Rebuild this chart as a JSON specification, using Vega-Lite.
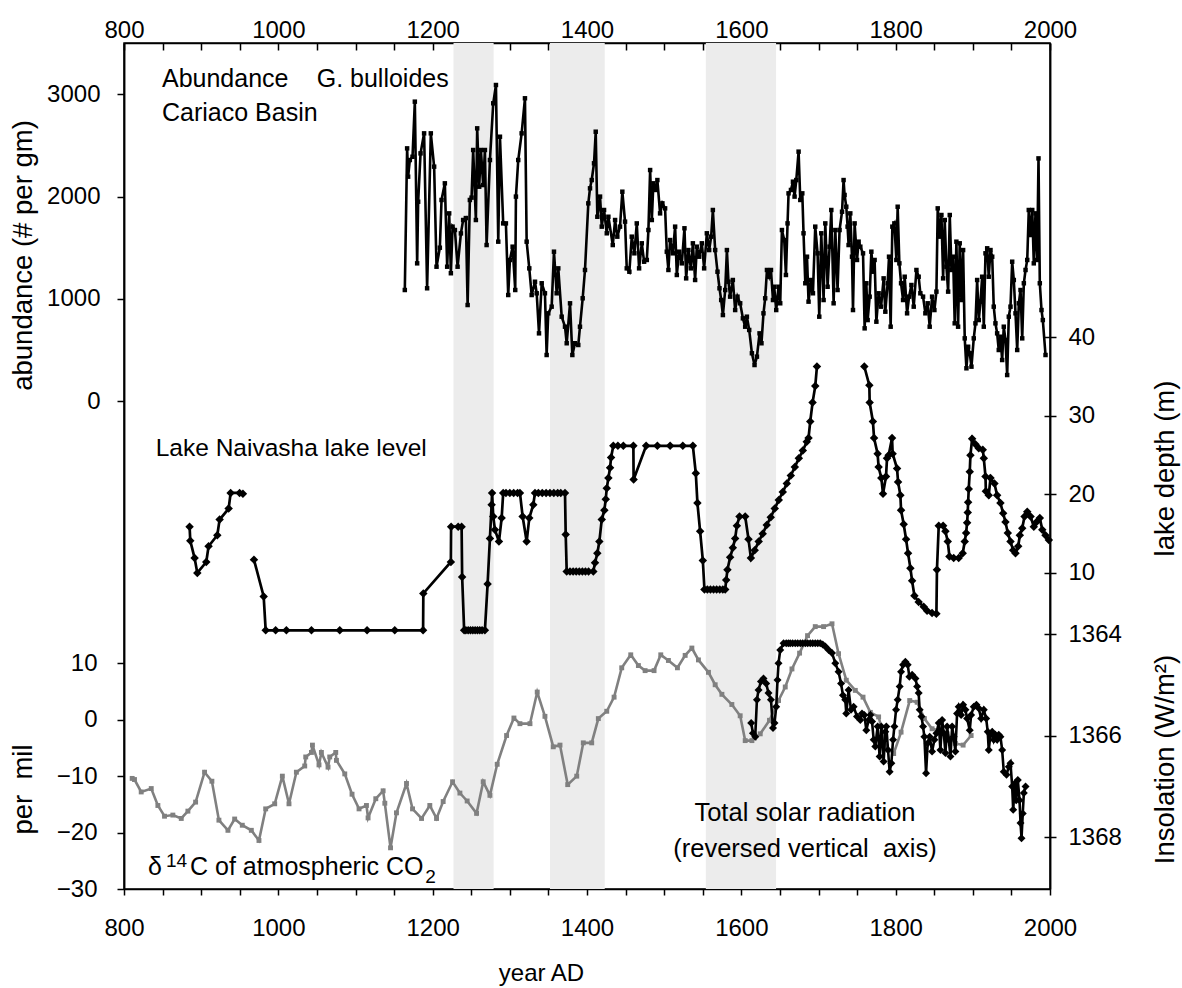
{
  "$schema": "https://vega.github.io/schema/vega-lite/v6.json",
  "width": 926,
  "height": 846,
  "autosize": {"type": "none"},
  "padding": {"left": 124, "top": 43, "right": 132, "bottom": 99},
  "background": "white",
  "config": {
    "font": "Liberation Sans",
    "view": {"stroke": "black", "strokeWidth": 1.5},
    "axis": {
      "grid": false,
      "domainColor": "black",
      "tickColor": "black",
      "labelColor": "black",
      "titleColor": "black",
      "labelFont": "Liberation Sans",
      "titleFont": "Liberation Sans",
      "labelFontSize": 24,
      "titleFontSize": 27.5,
      "titleFontWeight": "normal",
      "domainWidth": 1.5,
      "tickWidth": 1.5
    },
    "text": {"font": "Liberation Sans", "color": "black"}
  },
  "datasets": {
    "bands": [
      {"start": 1227, "end": 1279},
      {"start": 1352, "end": 1423},
      {"start": 1554, "end": 1645}
    ],
    "cariaco": [
      {"year":1163.9,"v":1086},{"year":1166.9,"v":2472},{"year":1168.2,"v":2195},{"year":1170.4,"v":2358},{"year":1173.9,"v":2390},{"year":1176.9,"v":2929},{"year":1179.9,"v":1347},{"year":1181.2,"v":1950},{"year":1184.3,"v":2423},{"year":1188.9,"v":2619},{"year":1192.8,"v":1103},{"year":1197.6,"v":2619},{"year":1201.9,"v":2293},{"year":1205,"v":1314},{"year":1209.3,"v":1500},{"year":1211.5,"v":1967},{"year":1215.8,"v":2130},{"year":1218.8,"v":1314},{"year":1221.4,"v":1836},{"year":1223.6,"v":1250},{"year":1225.8,"v":1706},{"year":1228.8,"v":1673},{"year":1232.3,"v":1314},{"year":1236.6,"v":1640},{"year":1239.5,"v":1771},{"year":1243,"v":1790},{"year":1245.3,"v":939},{"year":1248.2,"v":1967},{"year":1250.4,"v":1990},{"year":1252.5,"v":2456},{"year":1256,"v":1771},{"year":1257.7,"v":2668},{"year":1260.3,"v":2097},{"year":1262.5,"v":2456},{"year":1265.5,"v":2113},{"year":1267.7,"v":2456},{"year":1269.9,"v":1526},{"year":1274.2,"v":2358},{"year":1278.5,"v":2913},{"year":1282,"v":3092},{"year":1285,"v":1559},{"year":1287.2,"v":2586},{"year":1291.4,"v":1738},{"year":1294.9,"v":1738},{"year":1297.9,"v":1037},{"year":1300.1,"v":1380},{"year":1303.6,"v":1510},{"year":1307,"v":1086},{"year":1307.9,"v":2000},{"year":1310.9,"v":2358},{"year":1315.3,"v":2619},{"year":1319.6,"v":2962},{"year":1321.8,"v":1559},{"year":1325.2,"v":1298},{"year":1328.3,"v":1037},{"year":1332.6,"v":1167},{"year":1334.8,"v":1054},{"year":1337.8,"v":662},{"year":1341.3,"v":1152},{"year":1345.5,"v":1054},{"year":1347.7,"v":450},{"year":1349.8,"v":858},{"year":1354.2,"v":923},{"year":1357.2,"v":1461},{"year":1360.7,"v":1054},{"year":1362.8,"v":1298},{"year":1367.2,"v":825},{"year":1371.5,"v":727},{"year":1373.7,"v":565},{"year":1378,"v":956},{"year":1381,"v":450},{"year":1384.4,"v":565},{"year":1388.7,"v":548},{"year":1390.9,"v":727},{"year":1394.4,"v":1005},{"year":1397.4,"v":1282},{"year":1401.7,"v":1934},{"year":1403.9,"v":2081},{"year":1406.1,"v":2162},{"year":1409.1,"v":2326},{"year":1411.3,"v":2635},{"year":1413.4,"v":1803},{"year":1416.9,"v":2000},{"year":1419.1,"v":1706},{"year":1422.1,"v":1869},{"year":1425.6,"v":1641},{"year":1427.7,"v":1803},{"year":1433.4,"v":1526},{"year":1436.4,"v":1771},{"year":1439.3,"v":1608},{"year":1442.8,"v":1706},{"year":1445.8,"v":2048},{"year":1449.3,"v":1755},{"year":1451.5,"v":1298},{"year":1454.9,"v":1265},{"year":1458,"v":1608},{"year":1461.4,"v":1445},{"year":1464.5,"v":1738},{"year":1467.5,"v":1298},{"year":1471,"v":1543},{"year":1474,"v":1363},{"year":1477.5,"v":1380},{"year":1479.6,"v":1673},{"year":1481.8,"v":2260},{"year":1484,"v":1771},{"year":1486,"v":2130},{"year":1488.2,"v":2065},{"year":1491.2,"v":2162},{"year":1494.7,"v":1836},{"year":1497.7,"v":1934},{"year":1501.2,"v":1885},{"year":1503.4,"v":1461},{"year":1505.5,"v":1282},{"year":1507.7,"v":1575},{"year":1511.2,"v":1445},{"year":1514.2,"v":1706},{"year":1516.4,"v":1233},{"year":1519.4,"v":1461},{"year":1522.9,"v":1347},{"year":1526.3,"v":1690},{"year":1528.5,"v":1200},{"year":1531.4,"v":1477},{"year":1534.6,"v":1298},{"year":1537.2,"v":1543},{"year":1540.1,"v":1184},{"year":1542.3,"v":1510},{"year":1545.3,"v":1412},{"year":1548.8,"v":1543},{"year":1551.8,"v":1298},{"year":1555.3,"v":1641},{"year":1558.3,"v":1477},{"year":1560.9,"v":1608},{"year":1563.1,"v":1869},{"year":1566.1,"v":1477},{"year":1569.1,"v":1265},{"year":1571.7,"v":1103},{"year":1573.9,"v":988},{"year":1576.1,"v":841},{"year":1579.1,"v":1086},{"year":1581.3,"v":1477},{"year":1583.3,"v":1167},{"year":1585.5,"v":1021},{"year":1589,"v":1184},{"year":1592,"v":890},{"year":1595,"v":1021},{"year":1598.5,"v":956},{"year":1602,"v":809},{"year":1605,"v":727},{"year":1607.2,"v":825},{"year":1610.2,"v":695},{"year":1613.7,"v":467},{"year":1617.1,"v":352},{"year":1620.2,"v":434},{"year":1623.6,"v":662},{"year":1626.1,"v":565},{"year":1628.7,"v":858},{"year":1630.9,"v":1005},{"year":1633.2,"v":1282},{"year":1636.1,"v":1216},{"year":1638.4,"v":1282},{"year":1641,"v":988},{"year":1642.6,"v":1118},{"year":1645.2,"v":890},{"year":1648.2,"v":1118},{"year":1650.4,"v":956},{"year":1652.6,"v":1673},{"year":1655.6,"v":1575},{"year":1657.8,"v":1233},{"year":1659.9,"v":1738},{"year":1661.2,"v":2032},{"year":1664.3,"v":2065},{"year":1666.9,"v":2146},{"year":1669,"v":2000},{"year":1671.2,"v":2162},{"year":1674.2,"v":2440},{"year":1676.4,"v":1967},{"year":1679,"v":2032},{"year":1680.6,"v":1641},{"year":1682.9,"v":1152},{"year":1685.1,"v":1412},{"year":1687.1,"v":972},{"year":1690.2,"v":1184},{"year":1692.8,"v":1054},{"year":1695.8,"v":1706},{"year":1698.8,"v":1445},{"year":1701,"v":825},{"year":1703.6,"v":1641},{"year":1706.6,"v":988},{"year":1708.8,"v":1738},{"year":1711.8,"v":1118},{"year":1714.4,"v":1510},{"year":1716.6,"v":1869},{"year":1719.6,"v":956},{"year":1721.8,"v":1673},{"year":1724.7,"v":1086},{"year":1727.3,"v":1673},{"year":1730.5,"v":1852},{"year":1732.5,"v":2162},{"year":1733.8,"v":2016},{"year":1736,"v":1901},{"year":1737.7,"v":1706},{"year":1739,"v":1526},{"year":1741.2,"v":1836},{"year":1743.4,"v":1412},{"year":1744.7,"v":890},{"year":1746.8,"v":1738},{"year":1749.9,"v":1380},{"year":1752,"v":1559},{"year":1754.2,"v":1510},{"year":1757.7,"v":1445},{"year":1759.8,"v":711},{"year":1762,"v":1152},{"year":1763.7,"v":792},{"year":1766.3,"v":1021},{"year":1768.5,"v":1461},{"year":1770.7,"v":1265},{"year":1772.7,"v":1380},{"year":1775,"v":776},{"year":1777.9,"v":1054},{"year":1781.1,"v":923},{"year":1784.4,"v":1200},{"year":1786.6,"v":874},{"year":1789.6,"v":1152},{"year":1791.4,"v":1412},{"year":1793.5,"v":727},{"year":1795.7,"v":1706},{"year":1798.3,"v":1738},{"year":1800.9,"v":1380},{"year":1802.6,"v":1901},{"year":1804.8,"v":1347},{"year":1807,"v":1152},{"year":1809.6,"v":988},{"year":1811.7,"v":1216},{"year":1814.8,"v":858},{"year":1817.4,"v":1021},{"year":1820.4,"v":1135},{"year":1823.4,"v":923},{"year":1826.9,"v":1282},{"year":1829.8,"v":1216},{"year":1832,"v":1054},{"year":1835.5,"v":1021},{"year":1838.5,"v":858},{"year":1841.5,"v":956},{"year":1844.1,"v":727},{"year":1847.2,"v":1021},{"year":1850.2,"v":890},{"year":1852.8,"v":1070},{"year":1854.5,"v":1885},{"year":1857.1,"v":1608},{"year":1859.3,"v":1820},{"year":1861.5,"v":1200},{"year":1863.6,"v":1771},{"year":1865.8,"v":1314},{"year":1868,"v":1070},{"year":1870.1,"v":1820},{"year":1872.3,"v":1282},{"year":1874.5,"v":1412},{"year":1876.5,"v":760},{"year":1878.7,"v":1559},{"year":1880.9,"v":727},{"year":1883,"v":1543},{"year":1885.2,"v":988},{"year":1887.4,"v":1477},{"year":1889.5,"v":613},{"year":1891.7,"v":320},{"year":1893.9,"v":531},{"year":1896,"v":467},{"year":1898.2,"v":336},{"year":1901.2,"v":613},{"year":1903.4,"v":760},{"year":1905.6,"v":1184},{"year":1907.7,"v":792},{"year":1909.9,"v":972},{"year":1912.1,"v":1216},{"year":1914.2,"v":727},{"year":1916.4,"v":1445},{"year":1918.6,"v":1494},{"year":1920.6,"v":1216},{"year":1922.9,"v":1477},{"year":1925.1,"v":1412},{"year":1927.1,"v":923},{"year":1929.3,"v":760},{"year":1931.5,"v":662},{"year":1933.6,"v":499},{"year":1935.8,"v":629},{"year":1938,"v":401},{"year":1940.1,"v":727},{"year":1942.3,"v":597},{"year":1944.5,"v":254},{"year":1946.6,"v":825},{"year":1948.8,"v":923},{"year":1951,"v":1363},{"year":1953.1,"v":1184},{"year":1955.3,"v":858},{"year":1957.5,"v":499},{"year":1959.6,"v":956},{"year":1961.8,"v":1086},{"year":1964,"v":613},{"year":1966.1,"v":1152},{"year":1968.3,"v":1282},{"year":1970.5,"v":1380},{"year":1972.5,"v":1869},{"year":1974.8,"v":1624},{"year":1977,"v":1869},{"year":1979,"v":1347},{"year":1981.2,"v":1836},{"year":1983.4,"v":1380},{"year":1985.1,"v":2374},{"year":1986.8,"v":1152},{"year":1989,"v":890},{"year":1990.7,"v":792},{"year":1994.2,"v":450}
    ],
    "lake": [
      {"seg":1,"year":885,"d":15.9},{"seg":1,"year":885.9,"d":14.1},{"seg":1,"year":891.5,"d":11.9},{"seg":1,"year":895,"d":10.0},{"seg":1,"year":906.6,"d":11.4},{"seg":1,"year":909.6,"d":13.4},{"seg":1,"year":920.9,"d":14.8},{"seg":1,"year":923.9,"d":16.8},{"seg":1,"year":935.6,"d":18.2},{"seg":1,"year":938.2,"d":20.2},{"seg":1,"year":949.8,"d":20.2},{"seg":1,"year":954.1,"d":20.1},
      {"seg":2,"year":968.4,"d":11.7},{"seg":2,"year":981,"d":7.0},{"seg":2,"year":983.6,"d":2.7},{"seg":2,"year":996.5,"d":2.7},{"seg":2,"year":1010.4,"d":2.7},{"seg":2,"year":1042.9,"d":2.7},{"seg":2,"year":1079.6,"d":2.7},{"seg":2,"year":1115,"d":2.7},{"seg":2,"year":1150.9,"d":2.7},{"seg":2,"year":1187.6,"d":2.7},{"seg":2,"year":1187.9,"d":7.4},{"seg":2,"year":1223.6,"d":11.4},{"seg":2,"year":1223.9,"d":15.9},{"seg":2,"year":1233.1,"d":15.9},{"seg":2,"year":1237.5,"d":15.9},{"seg":2,"year":1238.2,"d":9.5},{"seg":2,"year":1240.8,"d":2.7},{"seg":2,"year":1243,"d":2.7},{"seg":2,"year":1246,"d":2.7},{"seg":2,"year":1249,"d":2.7},{"seg":2,"year":1252,"d":2.7},{"seg":2,"year":1255,"d":2.7},{"seg":2,"year":1258,"d":2.7},{"seg":2,"year":1261,"d":2.7},{"seg":2,"year":1264,"d":2.7},{"seg":2,"year":1267.7,"d":2.7},{"seg":2,"year":1271.2,"d":8.6},{"seg":2,"year":1274.2,"d":14.4},{"seg":2,"year":1276.4,"d":18.7},{"seg":2,"year":1277,"d":20.2},{"seg":2,"year":1278.5,"d":17.2},{"seg":2,"year":1280.7,"d":15.5},{"seg":2,"year":1285.9,"d":14.0},{"seg":2,"year":1289.4,"d":17.0},{"seg":2,"year":1291.4,"d":20.2},{"seg":2,"year":1295,"d":20.2},{"seg":2,"year":1300,"d":20.2},{"seg":2,"year":1305,"d":20.2},{"seg":2,"year":1310,"d":20.2},{"seg":2,"year":1313.1,"d":20.2},{"seg":2,"year":1316.6,"d":17.2},{"seg":2,"year":1321.8,"d":14.0},{"seg":2,"year":1325.2,"d":17.0},{"seg":2,"year":1330.4,"d":18.7},{"seg":2,"year":1332.6,"d":20.2},{"seg":2,"year":1337,"d":20.2},{"seg":2,"year":1342,"d":20.2},{"seg":2,"year":1347,"d":20.2},{"seg":2,"year":1352,"d":20.2},{"seg":2,"year":1357,"d":20.2},{"seg":2,"year":1362,"d":20.2},{"seg":2,"year":1366,"d":20.2},{"seg":2,"year":1371.5,"d":20.2},{"seg":2,"year":1372.4,"d":14.9},{"seg":2,"year":1373.7,"d":10.2},{"seg":2,"year":1378,"d":10.2},{"seg":2,"year":1382,"d":10.2},{"seg":2,"year":1386,"d":10.2},{"seg":2,"year":1390,"d":10.2},{"seg":2,"year":1394,"d":10.2},{"seg":2,"year":1398,"d":10.2},{"seg":2,"year":1402,"d":10.2},{"seg":2,"year":1408.2,"d":10.2},{"seg":2,"year":1410.4,"d":11.3},{"seg":2,"year":1413.4,"d":12.5},{"seg":2,"year":1416,"d":14.0},{"seg":2,"year":1419.1,"d":16.8},{"seg":2,"year":1422.5,"d":18.0},{"seg":2,"year":1424.3,"d":19.4},{"seg":2,"year":1425.6,"d":20.8},{"seg":2,"year":1427.7,"d":22.1},{"seg":2,"year":1429.9,"d":23.4},{"seg":2,"year":1431.2,"d":24.7},{"seg":2,"year":1434.1,"d":26.2},{"seg":2,"year":1440,"d":26.2},{"seg":2,"year":1447.1,"d":26.2},{"seg":2,"year":1460.1,"d":26.2},{"seg":2,"year":1460.4,"d":21.9},{"seg":2,"year":1476.6,"d":26.2},{"seg":2,"year":1491.2,"d":26.2},{"seg":2,"year":1507.7,"d":26.2},{"seg":2,"year":1524.2,"d":26.2},{"seg":2,"year":1537.2,"d":26.2},{"seg":2,"year":1541,"d":22.7},{"seg":2,"year":1543.1,"d":18.9},{"seg":2,"year":1546.6,"d":15.3},{"seg":2,"year":1550.1,"d":11.6},{"seg":2,"year":1552.2,"d":7.9},{"seg":2,"year":1556,"d":7.9},{"seg":2,"year":1560,"d":7.9},{"seg":2,"year":1564,"d":7.9},{"seg":2,"year":1568,"d":7.9},{"seg":2,"year":1572,"d":7.9},{"seg":2,"year":1576,"d":7.9},{"seg":2,"year":1579.1,"d":7.9},{"seg":2,"year":1580.4,"d":9.1},{"seg":2,"year":1582,"d":10.4},{"seg":2,"year":1585.5,"d":12.0},{"seg":2,"year":1589,"d":13.2},{"seg":2,"year":1592,"d":14.4},{"seg":2,"year":1594.2,"d":16.0},{"seg":2,"year":1597.6,"d":17.2},{"seg":2,"year":1605,"d":17.2},{"seg":2,"year":1609.3,"d":14.3},{"seg":2,"year":1612.4,"d":11.9},{"seg":2,"year":1617.3,"d":12.9},{"seg":2,"year":1622.5,"d":14.0},{"seg":2,"year":1627.7,"d":15.0},{"seg":2,"year":1632.9,"d":16.1},{"seg":2,"year":1638.1,"d":17.1},{"seg":2,"year":1643.3,"d":18.2},{"seg":2,"year":1648.5,"d":19.3},{"seg":2,"year":1653.7,"d":20.3},{"seg":2,"year":1658.9,"d":21.4},{"seg":2,"year":1664.1,"d":22.4},{"seg":2,"year":1669.3,"d":23.5},{"seg":2,"year":1674.5,"d":24.6},{"seg":2,"year":1679.7,"d":25.6},{"seg":2,"year":1684.8,"d":26.7},{"seg":2,"year":1687.1,"d":27.2},{"seg":2,"year":1689.3,"d":29.3},{"seg":2,"year":1692.3,"d":31.7},{"seg":2,"year":1695.8,"d":33.8},{"seg":2,"year":1698,"d":36.3},
      {"seg":3,"year":1759.4,"d":36.3},{"seg":3,"year":1765.9,"d":33.9},{"seg":3,"year":1766.3,"d":31.7},{"seg":3,"year":1770.5,"d":29.3},{"seg":3,"year":1772,"d":27.2},{"seg":3,"year":1776.6,"d":25.2},{"seg":3,"year":1777.9,"d":23.5},{"seg":3,"year":1781.4,"d":22.1},{"seg":3,"year":1783.6,"d":20.1},{"seg":3,"year":1787.5,"d":22.3},{"seg":3,"year":1788.8,"d":24.6},{"seg":3,"year":1790.9,"d":25.0},{"seg":3,"year":1795.3,"d":27.2},{"seg":3,"year":1796.1,"d":25.2},{"seg":3,"year":1801.8,"d":23.3},{"seg":3,"year":1803.1,"d":21.6},{"seg":3,"year":1806.1,"d":19.9},{"seg":3,"year":1807,"d":18.0},{"seg":3,"year":1810.4,"d":16.2},{"seg":3,"year":1813.5,"d":14.3},{"seg":3,"year":1816.1,"d":12.5},{"seg":3,"year":1819.1,"d":10.6},{"seg":3,"year":1821.3,"d":9.0},{"seg":3,"year":1824.3,"d":7.1},{"seg":3,"year":1829.8,"d":6.3},{"seg":3,"year":1836.3,"d":5.7},{"seg":3,"year":1840.7,"d":5.2},{"seg":3,"year":1847.2,"d":4.9},{"seg":3,"year":1852.8,"d":4.8},{"seg":3,"year":1853.5,"d":10.4},{"seg":3,"year":1855.8,"d":16.0},{"seg":3,"year":1861.5,"d":16.0},{"seg":3,"year":1864.5,"d":15.3},{"seg":3,"year":1867.5,"d":14.0},{"seg":3,"year":1869.7,"d":12.1},{"seg":3,"year":1875.2,"d":11.9},{"seg":3,"year":1881.7,"d":11.9},{"seg":3,"year":1886.9,"d":12.5},{"seg":3,"year":1889.5,"d":14.0},{"seg":3,"year":1891.3,"d":15.1},{"seg":3,"year":1892.6,"d":16.4},{"seg":3,"year":1893.4,"d":17.7},{"seg":3,"year":1893.9,"d":19.0},{"seg":3,"year":1894.7,"d":20.7},{"seg":3,"year":1896,"d":22.9},{"seg":3,"year":1896.9,"d":25.0},{"seg":3,"year":1899.1,"d":27.1},{"seg":3,"year":1903.4,"d":26.4},{"seg":3,"year":1907.7,"d":25.9},{"seg":3,"year":1912.9,"d":25.7},{"seg":3,"year":1914.2,"d":24.6},{"seg":3,"year":1916.4,"d":22.3},{"seg":3,"year":1916.9,"d":20.4},{"seg":3,"year":1920.6,"d":19.9},{"seg":3,"year":1922.9,"d":22.1},{"seg":3,"year":1928,"d":21.4},{"seg":3,"year":1931.5,"d":19.9},{"seg":3,"year":1935.8,"d":18.9},{"seg":3,"year":1939.3,"d":17.6},{"seg":3,"year":1942.3,"d":16.5},{"seg":3,"year":1945.3,"d":15.1},{"seg":3,"year":1948.8,"d":14.0},{"seg":3,"year":1952.3,"d":12.9},{"seg":3,"year":1955.3,"d":12.5},{"seg":3,"year":1958.8,"d":13.4},{"seg":3,"year":1960.9,"d":14.8},{"seg":3,"year":1964,"d":15.7},{"seg":3,"year":1967,"d":17.2},{"seg":3,"year":1970.5,"d":17.8},{"seg":3,"year":1974.8,"d":17.2},{"seg":3,"year":1979,"d":15.9},{"seg":3,"year":1982.5,"d":16.5},{"seg":3,"year":1986.8,"d":17.0},{"seg":3,"year":1990,"d":15.5},{"seg":3,"year":1994.2,"d":14.8},{"seg":3,"year":1998.5,"d":14.2}
    ],
    "c14": [
      {"year":810.6,"p":-10.4},{"year":813.6,"p":-10.6},{"year":822.3,"p":-12.8},{"year":835.3,"p":-12.2},{"year":843.9,"p":-15.2},{"year":852.5,"p":-17.1},{"year":863.3,"p":-16.9},{"year":874.2,"p":-17.5},{"year":882.8,"p":-16.2},{"year":892.8,"p":-14.6},{"year":904.4,"p":-9.3},{"year":913.9,"p":-10.9},{"year":923,"p":-17.8},{"year":934.7,"p":-19.6},{"year":943.4,"p":-17.6},{"year":953.3,"p":-18.7},{"year":965,"p":-19.6},{"year":974.9,"p":-21.4},{"year":983.6,"p":-15.8},{"year":995.3,"p":-14.9},{"year":1005.2,"p":-10.0},{"year":1013.8,"p":-14.9},{"year":1023.4,"p":-9.3},{"year":1034.2,"p":-8.2},{"year":1035.5,"p":-6.6},{"year":1042.9,"p":-5.8},{"year":1044.2,"p":-4.5},{"year":1052.7,"p":-8.0},{"year":1055.8,"p":-5.8},{"year":1064.4,"p":-8.4},{"year":1066.6,"p":-6.6},{"year":1074.4,"p":-5.8},{"year":1075.3,"p":-7.2},{"year":1086.1,"p":-9.6},{"year":1095.5,"p":-13.2},{"year":1104.6,"p":-15.8},{"year":1114.2,"p":-15.2},{"year":1116.3,"p":-17.4},{"year":1126.3,"p":-14.0},{"year":1135.8,"p":-12.6},{"year":1138,"p":-14.8},{"year":1145.4,"p":-22.7},{"year":1153.1,"p":-16.5},{"year":1166.1,"p":-11.3},{"year":1173.9,"p":-15.8},{"year":1185.6,"p":-17.5},{"year":1196.3,"p":-15.2},{"year":1205,"p":-17.5},{"year":1213.6,"p":-14.5},{"year":1225.8,"p":-11.0},{"year":1235.3,"p":-13.0},{"year":1244.7,"p":-14.4},{"year":1256.9,"p":-16.6},{"year":1265.5,"p":-11.0},{"year":1274.2,"p":-13.4},{"year":1283.6,"p":-7.9},{"year":1295.8,"p":-2.8},{"year":1305.3,"p":0.3},{"year":1313.1,"p":-0.7},{"year":1326.1,"p":-0.7},{"year":1335.5,"p":4.9},{"year":1345.5,"p":0.6},{"year":1356.3,"p":-4.8},{"year":1365,"p":-4.5},{"year":1375,"p":-11.5},{"year":1386.7,"p":-10.0},{"year":1395.2,"p":-4.1},{"year":1406.1,"p":-4.1},{"year":1414.7,"p":0.2},{"year":1425.6,"p":1.5},{"year":1435.1,"p":4.0},{"year":1445,"p":9.2},{"year":1456.7,"p":11.5},{"year":1466.6,"p":9.6},{"year":1475.3,"p":8.7},{"year":1486.9,"p":8.7},{"year":1495.6,"p":11.5},{"year":1505.5,"p":10.5},{"year":1517.2,"p":9.2},{"year":1527.2,"p":11.4},{"year":1535.9,"p":12.7},{"year":1544.4,"p":10.6},{"year":1557.4,"p":8.4},{"year":1566.1,"p":6.2},{"year":1574.8,"p":4.5},{"year":1587.7,"p":2.7},{"year":1598.5,"p":0.7},{"year":1605,"p":-3.7},{"year":1613.7,"p":-3.7},{"year":1624.5,"p":-2.5},{"year":1636.5,"p":-0.1},{"year":1648.2,"p":3.4},{"year":1656.9,"p":5.8},{"year":1665.6,"p":9.0},{"year":1675.5,"p":11.8},{"year":1685.8,"p":14.9},{"year":1695.8,"p":16.5},{"year":1706.6,"p":16.5},{"year":1717.5,"p":17.0},{"year":1726,"p":11.7},{"year":1736,"p":7.0},{"year":1747.7,"p":5.2},{"year":1757.7,"p":4.0},{"year":1767.2,"p":1.3},{"year":1777.9,"p":0.5},{"year":1787.9,"p":-4.8},{"year":1797.4,"p":-6.0},{"year":1807,"p":-2.2},{"year":1818.2,"p":3.4},{"year":1827.8,"p":3.1},{"year":1837.2,"p":0.2},{"year":1847.2,"p":-1.6},{"year":1857.1,"p":-1.9},{"year":1866.7,"p":-2.5},{"year":1877.4,"p":-4.2},{"year":1887.4,"p":-4.5},{"year":1897.8,"p":-2.8}
    ],
    "solar": [
      {"year":1612.8,"s":1365.75},{"year":1615,"s":1365.95},{"year":1618,"s":1366.02},{"year":1620.2,"s":1365.29},{"year":1622.3,"s":1365.10},{"year":1625.4,"s":1364.93},{"year":1628.7,"s":1364.87},{"year":1632.2,"s":1364.97},{"year":1635.2,"s":1365.16},{"year":1638.4,"s":1365.29},{"year":1641,"s":1365.85},{"year":1643,"s":1365.75},{"year":1645.2,"s":1365.43},{"year":1646.9,"s":1364.90},{"year":1648.2,"s":1364.57},{"year":1650.4,"s":1364.31},{"year":1654.7,"s":1364.18},{"year":1658.2,"s":1364.18},{"year":1661,"s":1364.18},{"year":1663.4,"s":1364.18},{"year":1666.5,"s":1364.18},{"year":1669.9,"s":1364.18},{"year":1673,"s":1364.18},{"year":1676.4,"s":1364.18},{"year":1679.5,"s":1364.18},{"year":1682.9,"s":1364.18},{"year":1686,"s":1364.18},{"year":1689.3,"s":1364.18},{"year":1692.5,"s":1364.18},{"year":1695.8,"s":1364.18},{"year":1699,"s":1364.18},{"year":1702.3,"s":1364.18},{"year":1705.5,"s":1364.2},{"year":1708.8,"s":1364.24},{"year":1713.1,"s":1364.31},{"year":1717.5,"s":1364.37},{"year":1721.8,"s":1364.57},{"year":1726,"s":1364.74},{"year":1729.2,"s":1364.97},{"year":1731.7,"s":1365.20},{"year":1734.7,"s":1365.29},{"year":1736,"s":1365.56},{"year":1739,"s":1365.10},{"year":1742.1,"s":1365.49},{"year":1745.5,"s":1365.43},{"year":1749.9,"s":1365.62},{"year":1754.2,"s":1365.69},{"year":1756.4,"s":1365.56},{"year":1759.4,"s":1365.59},{"year":1762,"s":1365.89},{"year":1765,"s":1365.69},{"year":1767.2,"s":1365.59},{"year":1769.4,"s":1365.72},{"year":1771.5,"s":1366.08},{"year":1773.6,"s":1366.21},{"year":1776.6,"s":1365.82},{"year":1779.2,"s":1366.41},{"year":1781.4,"s":1365.82},{"year":1784.4,"s":1366.51},{"year":1786.6,"s":1365.92},{"year":1787.9,"s":1365.82},{"year":1790.1,"s":1366.28},{"year":1792.2,"s":1366.71},{"year":1794.4,"s":1366.54},{"year":1796.6,"s":1366.08},{"year":1798.3,"s":1365.82},{"year":1800.5,"s":1365.49},{"year":1802.6,"s":1365.29},{"year":1805.2,"s":1365.03},{"year":1807,"s":1364.74},{"year":1809.6,"s":1364.60},{"year":1812.6,"s":1364.54},{"year":1815.6,"s":1364.60},{"year":1817.8,"s":1364.84},{"year":1821.3,"s":1364.80},{"year":1825.6,"s":1364.87},{"year":1827.8,"s":1365.03},{"year":1829.8,"s":1365.16},{"year":1831.1,"s":1365.49},{"year":1833.4,"s":1365.62},{"year":1835.5,"s":1365.82},{"year":1837.2,"s":1366.02},{"year":1839.4,"s":1366.74},{"year":1841.5,"s":1366.15},{"year":1844.1,"s":1366.02},{"year":1847.2,"s":1366.31},{"year":1850.2,"s":1366.08},{"year":1852.8,"s":1365.95},{"year":1855.8,"s":1365.75},{"year":1858,"s":1366.28},{"year":1860.2,"s":1365.69},{"year":1862.3,"s":1365.95},{"year":1864.5,"s":1366.34},{"year":1866.7,"s":1365.82},{"year":1868.8,"s":1366.08},{"year":1871,"s":1366.41},{"year":1873.2,"s":1365.82},{"year":1875.2,"s":1366.02},{"year":1877.4,"s":1366.31},{"year":1879.6,"s":1365.56},{"year":1881.7,"s":1365.43},{"year":1884.8,"s":1365.59},{"year":1887.4,"s":1365.39},{"year":1890.4,"s":1365.49},{"year":1892.6,"s":1365.66},{"year":1896,"s":1365.89},{"year":1897.8,"s":1365.59},{"year":1901.2,"s":1365.43},{"year":1904.7,"s":1365.39},{"year":1907.7,"s":1365.46},{"year":1910.8,"s":1365.66},{"year":1914.2,"s":1365.49},{"year":1917.3,"s":1365.66},{"year":1919.3,"s":1365.92},{"year":1920.6,"s":1366.28},{"year":1922.9,"s":1365.98},{"year":1925.1,"s":1365.92},{"year":1927.1,"s":1366.08},{"year":1929.3,"s":1365.98},{"year":1931.5,"s":1366.08},{"year":1933.6,"s":1365.98},{"year":1935.8,"s":1366.02},{"year":1938,"s":1366.28},{"year":1940.1,"s":1366.71},{"year":1943.6,"s":1366.77},{"year":1946.6,"s":1366.61},{"year":1948.8,"s":1366.54},{"year":1951,"s":1367.00},{"year":1952.3,"s":1367.46},{"year":1954.4,"s":1366.94},{"year":1956.2,"s":1367.27},{"year":1958.3,"s":1366.87},{"year":1960.5,"s":1367.27},{"year":1961.8,"s":1367.72},{"year":1963.1,"s":1368.02},{"year":1964.7,"s":1367.53},{"year":1966.1,"s":1367.13},{"year":1968.3,"s":1367.00}
    ],
    "labAb": [
      {"year": 849.2, "v": 3069, "t": "Abundance"},
      {"year": 1049.7, "v": 3069, "t": "G. bulloides"},
      {"year": 849.2, "v": 2743, "t": "Cariaco Basin"}
    ],
    "labLake": [
      {"year": 841.1, "d": 24.9, "t": "Lake Naivasha lake level"}
    ],
    "labC14": [
      {"year": 831.1, "p": -27.52, "t": "δ"},
      {"year": 885.5, "p": -27.52, "t": "C of atmospheric CO"}
    ],
    "labC14small": [
      {"year": 854.3, "p": -26.05, "t": "14"},
      {"year": 1190.5, "p": -29.0, "t": "2"}
    ],
    "labSolar": [
      {"year": 1682.5, "s": 1367.675, "t": "Total solar radiation"},
      {"year": 1682.5, "s": 1368.385, "t": "(reversed vertical\u00a0 axis)"}
    ]
  },
  "layer": [
    {
      "data": {"name": "bands"},
      "mark": {"type": "rect", "color": "#ececec"},
      "encoding": {
        "x": {
          "field": "start", "type": "quantitative",
          "scale": {"domain": [800, 2000], "nice": false, "zero": false},
          "axis": {
            "orient": "bottom",
            "values": [800,850,900,950,1000,1050,1100,1150,1200,1250,1300,1350,1400,1450,1500,1550,1600,1650,1700,1750,1800,1850,1900,1950,2000],
            "labelExpr": "datum.value % 200 == 0 ? datum.label : ''",
            "format": "d",
            "tickSize": 6,
            "labelPadding": 21,
            "labelFlush": false,
            "labelOverlap": false,
            "title": "year AD",
            "titleFontSize": 24,
            "titleX": 417,
            "titleY": 84,
            "titleAlign": "center",
            "titleBaseline": "middle",
            "titleAngle": 0
          }
        },
        "x2": {"field": "end"}
      }
    },
    {
      "data": {"name": "cariaco"},
      "mark": {"type": "line", "color": "black", "strokeWidth": 2.6, "point": {"shape": "square", "size": 20, "filled": true, "color": "black"}},
      "encoding": {
        "x": {
          "field": "year", "type": "quantitative",
          "scale": {"domain": [800, 2000], "nice": false, "zero": false},
          "axis": {
            "orient": "top",
            "values": [800,850,900,950,1000,1050,1100,1150,1200,1250,1300,1350,1400,1450,1500,1550,1600,1650,1700,1750,1800,1850,1900,1950,2000],
            "labelExpr": "datum.value % 200 == 0 ? datum.label : ''",
            "format": "d",
            "tickSize": -7,
            "labelPadding": 8,
            "labelFlush": false,
            "labelOverlap": false,
            "title": null
          }
        },
        "y": {
          "field": "v", "type": "quantitative",
          "scale": {"domain": [-4775, 3503], "nice": false, "zero": false},
          "axis": {
            "orient": "left",
            "values": [0, 1000, 2000, 3000],
            "format": "d",
            "tickSize": 7,
            "labelPadding": 17,
            "labelOverlap": false,
            "title": "abundance (# per gm)",
            "titleAngle": 270,
            "titleAlign": "center",
            "titleBaseline": "middle",
            "titleX": -101,
            "titleY": 212
          }
        }
      }
    },
    {
      "data": {"name": "labAb"},
      "mark": {"type": "text", "align": "left", "baseline": "alphabetic", "fontSize": 25},
      "encoding": {
        "x": {"field": "year", "type": "quantitative", "scale": {"domain": [800, 2000], "nice": false, "zero": false}, "axis": null},
        "y": {"field": "v", "type": "quantitative", "scale": {"domain": [-4775, 3503], "nice": false, "zero": false}, "axis": null},
        "text": {"field": "t"}
      }
    },
    {
      "data": {"name": "lake"},
      "mark": {"type": "line", "color": "black", "strokeWidth": 2.7, "point": {"shape": "diamond", "size": 72, "filled": true, "color": "black"}},
      "encoding": {
        "x": {"field": "year", "type": "quantitative", "scale": {"domain": [800, 2000], "nice": false, "zero": false}, "axis": null},
        "y": {
          "field": "d", "type": "quantitative",
          "scale": {"domain": [-30.25, 77.5], "nice": false, "zero": false},
          "axis": {
            "orient": "right",
            "values": [10, 20, 30, 40],
            "format": "d",
            "tickSize": 6,
            "labelPadding": 12,
            "labelOverlap": false,
            "title": "lake depth (m)",
            "titleAngle": 270,
            "titleAlign": "center",
            "titleBaseline": "middle",
            "titleX": 115,
            "titleY": 425
          }
        },
        "detail": {"field": "seg", "type": "nominal"}
      }
    },
    {
      "data": {"name": "labLake"},
      "mark": {"type": "text", "align": "left", "baseline": "alphabetic", "fontSize": 24.5},
      "encoding": {
        "x": {"field": "year", "type": "quantitative", "scale": {"domain": [800, 2000], "nice": false, "zero": false}, "axis": null},
        "y": {
          "field": "d", "type": "quantitative",
          "scale": {"domain": [-30.25, 77.5], "nice": false, "zero": false},
          "axis": {"orient": "right", "values": [10, 20, 30, 40], "tickSize": -6, "labels": false, "domain": false, "title": null}
        },
        "text": {"field": "t"}
      }
    },
    {
      "data": {"name": "c14"},
      "mark": {"type": "line", "color": "#808080", "strokeWidth": 2.6, "point": {"shape": "square", "size": 24, "filled": true, "color": "#808080"}},
      "encoding": {
        "x": {"field": "year", "type": "quantitative", "scale": {"domain": [800, 2000], "nice": false, "zero": false}, "axis": null},
        "y": {
          "field": "p", "type": "quantitative",
          "scale": {"domain": [-30, 119.93], "nice": false, "zero": false},
          "axis": {
            "orient": "left",
            "values": [-30, -20, -10, 0, 10],
            "format": "d",
            "tickSize": 7,
            "labelPadding": 20,
            "labelOverlap": false,
            "title": "per \u00a0mil",
            "titleAngle": 270,
            "titleAlign": "center",
            "titleBaseline": "middle",
            "titleX": -101,
            "titleY": 746
          }
        }
      }
    },
    {
      "data": {"name": "labC14"},
      "mark": {"type": "text", "align": "left", "baseline": "alphabetic", "fontSize": 25},
      "encoding": {
        "x": {"field": "year", "type": "quantitative", "scale": {"domain": [800, 2000], "nice": false, "zero": false}, "axis": null},
        "y": {"field": "p", "type": "quantitative", "scale": {"domain": [-30, 119.93], "nice": false, "zero": false}, "axis": null},
        "text": {"field": "t"}
      }
    },
    {
      "data": {"name": "labC14small"},
      "mark": {"type": "text", "align": "left", "baseline": "alphabetic", "fontSize": 19},
      "encoding": {
        "x": {"field": "year", "type": "quantitative", "scale": {"domain": [800, 2000], "nice": false, "zero": false}, "axis": null},
        "y": {"field": "p", "type": "quantitative", "scale": {"domain": [-30, 119.93], "nice": false, "zero": false}, "axis": null},
        "text": {"field": "t"}
      }
    },
    {
      "data": {"name": "solar"},
      "mark": {"type": "line", "color": "black", "strokeWidth": 2.6, "point": {"shape": "diamond", "size": 64, "filled": true, "color": "black"}},
      "encoding": {
        "x": {"field": "year", "type": "quantitative", "scale": {"domain": [800, 2000], "nice": false, "zero": false}, "axis": null},
        "y": {
          "field": "s", "type": "quantitative",
          "scale": {"domain": [1352.35, 1369.02], "reverse": true, "nice": false, "zero": false},
          "axis": {
            "orient": "right",
            "values": [1364, 1366, 1368],
            "format": "d",
            "tickSize": 6,
            "labelPadding": 12,
            "labelOverlap": false,
            "title": "Insolation (W/m²)",
            "titleAngle": 270,
            "titleAlign": "center",
            "titleBaseline": "middle",
            "titleX": 115,
            "titleY": 716
          }
        }
      }
    },
    {
      "data": {"name": "labSolar"},
      "mark": {"type": "text", "align": "center", "baseline": "alphabetic", "fontSize": 25.5},
      "encoding": {
        "x": {"field": "year", "type": "quantitative", "scale": {"domain": [800, 2000], "nice": false, "zero": false}, "axis": null},
        "y": {
          "field": "s", "type": "quantitative",
          "scale": {"domain": [1352.35, 1369.02], "reverse": true, "nice": false, "zero": false},
          "axis": {"orient": "right", "values": [1364, 1366, 1368], "tickSize": -6, "labels": false, "domain": false, "title": null}
        },
        "text": {"field": "t"}
      }
    }
  ],
  "resolve": {"scale": {"y": "independent"}, "axis": {"x": "independent", "y": "independent"}}
}
